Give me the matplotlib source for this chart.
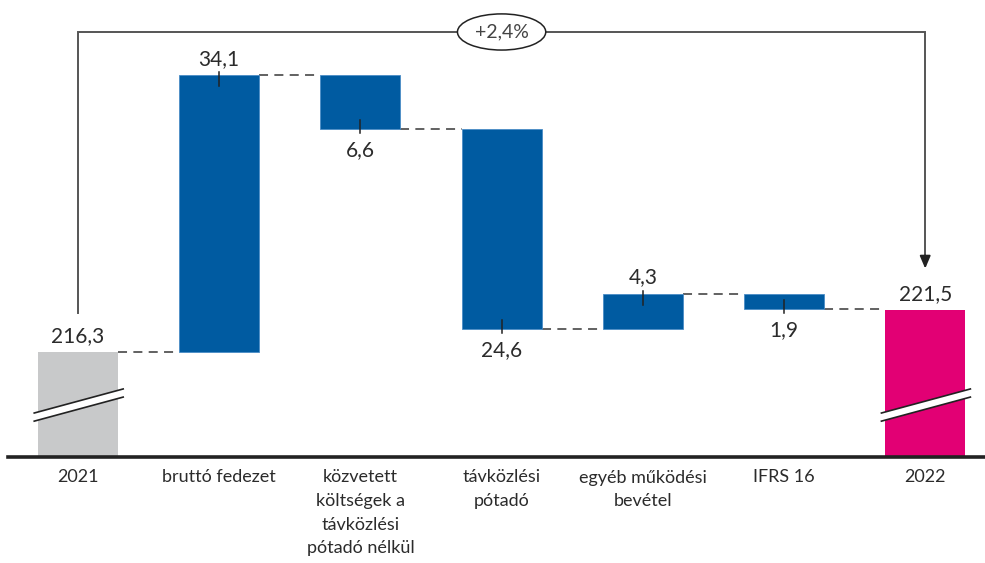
import matplotlib
matplotlib.use("Agg")
import matplotlib.pyplot as plt
import numpy as np

plt.rcParams['font.family'] = ['Lato', 'DejaVu Sans']

# ---- data ----
categories = ["2021", "bruttó fedezet",
              "közvetett\nköltségek a\ntávközlési\npótadó nélkül",
              "távközlési\npótadó", "egyéb működési\nbevétel", "IFRS 16", "2022"]
start_value = 216.3
deltas = [34.1, -6.6, -24.6, 4.3, -1.9]
end_value = 221.5
value_labels = ["216,3", "34,1", "6,6", "24,6", "4,3", "1,9", "221,5"]
change_label = "+2,4%"

# ---- styles ----
BLUE = "#005BA1"
GRAY = "#C8C9CA"
MAGENTA = "#E20074"
TXT = "#2b2b2b"
LINE = "#555555"

W, H = 985, 563
fig = plt.figure(figsize=(W / 100, H / 100), dpi=100)
px_per_unit = 8.13
base_px = 457
ymin = start_value - (base_px - 352.3) / px_per_unit
ymax = ymin + base_px / px_per_unit
ax = fig.add_axes([0, (H - base_px) / H, 1, base_px / H])
ax.set_ylim(ymin, ymax)
ax.set_xlim(-78 / 141.2, (W - 78) / 141.2)
for s in ax.spines.values():
    s.set_visible(False)
ax.set_yticks([])

width = 0.567
n = len(categories)
x = np.arange(n)

# running levels
levels = [start_value]
for d in deltas:
    levels.append(levels[-1] + d)

# end bars
ax.bar(x[0], start_value - ymin, bottom=ymin, width=width, color=GRAY, zorder=2)
ax.bar(x[-1], end_value - ymin, bottom=ymin, width=width, color=MAGENTA, zorder=2)

# delta bars
for i, d in enumerate(deltas):
    lo = min(levels[i], levels[i + 1])
    ax.bar(x[i + 1], abs(d), bottom=lo, width=width, color=BLUE,
           edgecolor="#4a8cc6", linewidth=0.6, zorder=2)

# connectors
tops = [start_value] + levels[1:]
for i in range(n - 1):
    lvl = tops[i] if i < n - 2 else levels[-1]
    ax.plot([x[i] + width / 2, x[i + 1] - width / 2], [lvl, lvl],
            color=LINE, lw=1.3, linestyle=(0, (5, 3.5)), zorder=1)

# value labels and little ticks
fs_val = 15
ax.annotate(value_labels[0], (x[0], start_value), xytext=(0, 7), textcoords="offset points",
            ha="center", va="baseline", fontsize=fs_val, color=TXT)
ax.annotate(value_labels[-1], (x[-1], end_value), xytext=(0, 7), textcoords="offset points",
            ha="center", va="baseline", fontsize=fs_val, color=TXT)
for i, d in enumerate(deltas):
    xi = x[i + 1]
    edge = levels[i + 1]
    if d > 0:
        ax.plot([xi, xi], [edge - 1.35, edge + 0.35], color="#222222", lw=1.1, zorder=3)
        ax.annotate(value_labels[i + 1], (xi, edge), xytext=(0, 7.5), textcoords="offset points",
                    ha="center", va="baseline", fontsize=fs_val, color=TXT)
    else:
        ax.plot([xi, xi], [edge - 0.5, edge + 1.1], color="#222222", lw=1.1, zorder=3)
        ax.annotate(value_labels[i + 1], (xi, edge), xytext=(0, -8), textcoords="offset points",
                    ha="center", va="top", fontsize=fs_val, color=TXT)

# break marks
for xi in (x[0], x[-1]):
    xl, xr = xi - 0.31, xi + 0.32
    y_low_l, y_low_r = ymin + 4.41, ymin + 7.37
    gap = 1.0
    ax.fill([xl, xr, xr, xl], [y_low_l, y_low_r, y_low_r + gap, y_low_l + gap],
            color="white", zorder=4, lw=0)
    ax.plot([xl, xr], [y_low_l, y_low_r], color="#222222", lw=1.2, zorder=5)
    ax.plot([xl, xr], [y_low_l + gap, y_low_r + gap], color="#222222", lw=1.2, zorder=5)

# baseline axis
ax.axhline(ymin, xmin=8 / W, xmax=1, color="#222222", lw=2.6, zorder=6, clip_on=False)

# bracket annotation
top_y = max(levels) + 5.3
ax.plot([x[0], x[0], x[-1], x[-1]],
        [start_value + 4.8, top_y, top_y, end_value + 6.5],
        color=LINE, lw=1.4, zorder=1, solid_joinstyle="miter")
ax.annotate("", xy=(x[-1], end_value + 5.1), xytext=(x[-1], end_value + 6.7),
            arrowprops=dict(arrowstyle="-|>,head_length=0.75,head_width=0.32",
                            color="#222222", lw=1.4, shrinkA=0, shrinkB=0))
ax.text((x[0] + x[-1]) / 2, top_y, change_label, ha="center", va="center",
        fontsize=14, color="#444444", zorder=3,
        bbox=dict(boxstyle="ellipse,pad=0.22", fc="white", ec="#222222", lw=1.1))

# category labels
ax.set_xticks(x)
ax.set_xticklabels(categories, fontsize=13, color=TXT, linespacing=1.58,
                   multialignment="center")
ax.tick_params(axis="x", length=0, pad=9)

fig.savefig("out.png", dpi=100)
